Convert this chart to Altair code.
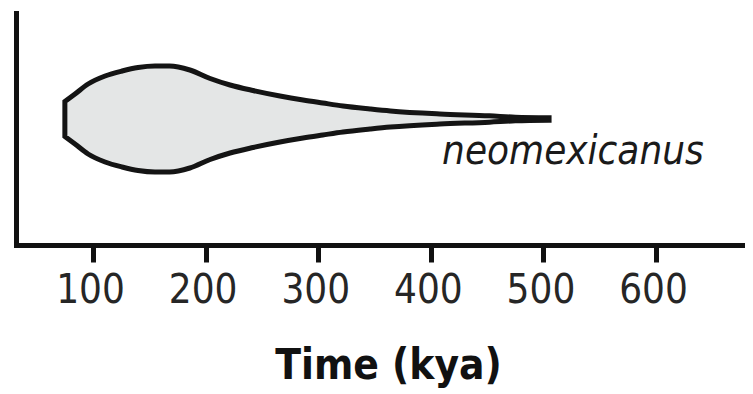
import altair as alt
import pandas as pd

# Violin outline (time in kya, half-width in arbitrary density units)
time_kya = [75, 84, 95.6, 110.7, 125.8, 140, 155, 168, 186, 204, 221.7, 242, 266, 286.5, 304, 322, 346, 364, 408, 452, 475, 505]
half_width = [17.5, 25, 35, 43, 48, 51.5, 53, 53, 49, 40.5, 34, 28.5, 23, 19, 16, 13, 10, 8, 5, 3.2, 1.8, 1.2]

tick_values = [100, 200, 300, 400, 500, 600]
species_label = ["neomexicanus"]
label_x = [410]
label_y = [-45]

FONT = "DejaVu Sans Condensed, Liberation Sans Narrow, DejaVu Sans, sans-serif"

df = pd.DataFrame({
    "time": time_kya,
    "lo": [-h for h in half_width],
    "hi": half_width,
})
lab = pd.DataFrame({"time": label_x, "y": label_y, "name": species_label})

xscale = alt.Scale(domain=[31.6, 679], nice=False, zero=False)
yscale = alt.Scale(domain=[-126, 106], nice=False, zero=False)

violin = alt.Chart(df).mark_area(
    fill="#e4e6e6", stroke="#141414", strokeWidth=5, interpolate="monotone"
).encode(
    x=alt.X("time:Q", scale=xscale, axis=alt.Axis(
        values=tick_values, format="d", grid=False,
        domainColor="#111111", domainWidth=5, domainCap="square",
        tickColor="#111111", tickWidth=5, tickSize=17,
        labelFont=FONT, labelFontSize=40, labelColor="#262626", labelPadding=8,
        labelOffset=-3, labelFlush=False, labelOverlap=False,
        title="Time (kya)", titleFont=FONT, titleFontSize=42, titleFontWeight="bold",
        titleColor="#111111", titleX=372, titleY=133, titleBaseline="alphabetic",
        titleAlign="center",
    )),
    y=alt.Y("lo:Q", scale=yscale, axis=alt.Axis(
        title="", labels=False, ticks=False, grid=False,
        domainColor="#111111", domainWidth=5, domainCap="square",
    )),
    y2="hi:Q",
)

text = alt.Chart(lab).mark_text(
    font=FONT, fontSize=40, fontStyle="italic", align="left",
    baseline="alphabetic", color="#1a1a1a",
).encode(
    x=alt.X("time:Q", scale=xscale),
    y=alt.Y("y:Q", scale=yscale),
    text="name:N",
)

chart = alt.layer(violin, text).properties(
    width=729, height=232,
    autosize=alt.AutoSizeParams(type="none"),
    padding={"left": 8, "top": 5, "right": 0, "bottom": 145},
    background="white",
).configure_view(strokeWidth=0)

chart.save("out.html", embed_options={"renderer": "svg", "actions": False})
